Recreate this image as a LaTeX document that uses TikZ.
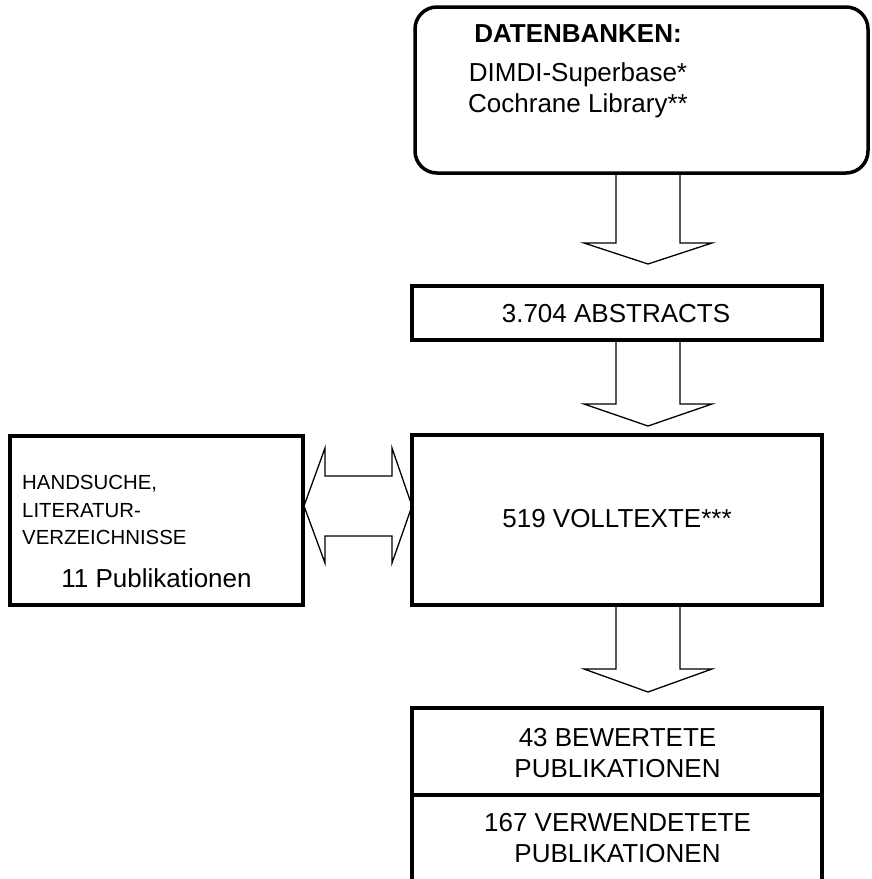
\documentclass[tikz,border=0pt]{standalone}
\usepackage{fontspec}
\setmainfont{Liberation Sans}
\begin{document}
\begin{tikzpicture}[x=1pt,y=-1pt,
  box/.style={draw, line width=4.5pt, inner sep=0pt, rectangle},
  lbl/.style={anchor=base, inner sep=0pt, font=\fontsize{26}{31}\selectfont},
  lblb/.style={anchor=base, inner sep=0pt, font=\fontsize{26}{31}\selectfont\bfseries},
  smalllbl/.style={anchor=base west, inner sep=0pt, font=\fontsize{20.4}{27.5}\selectfont},
  blockarrow/.style={draw, line width=1.3pt, fill=white, line join=miter}
]
\useasboundingbox (0,0) rectangle (871,879);

% block arrows (drawn first, boxes cover their open ends)
\draw[blockarrow] (616,173) -- (616,243) -- (584,243) -- (648,264) -- (712,243) -- (680,243) -- (680,173);
\draw[blockarrow] (616,340) -- (616,404) -- (584,404) -- (648,426) -- (712,404) -- (680,404) -- (680,340);
\draw[blockarrow] (616,605) -- (616,669) -- (584,669) -- (648,692) -- (712,669) -- (680,669) -- (680,605);
\draw[blockarrow] (304,506) -- (325,448) -- (325,476) -- (392,476) -- (392,448) -- (412,506)
   -- (392,563) -- (392,536) -- (325,536) -- (325,563) -- cycle;

% boxes
\node[draw, line width=3.5pt, rounded corners=22pt, inner sep=0pt, minimum width=453pt, minimum height=166pt] (db) at (641.5,90) {};
\node[box, minimum width=410pt, minimum height=54pt] (abs) at (617,313) {};
\node[box, minimum width=410pt, minimum height=170pt] (voll) at (617,520) {};
\node[box, minimum width=293pt, minimum height=169pt] (hand) at (156.5,520.5) {};
\node[box, minimum width=410pt, minimum height=87pt] (bew) at (617,751.5) {};
\node[box, minimum width=410pt, minimum height=110pt] (verw) at (617,850) {};

% texts
\node[lblb] (dbh) at (578,42.3) {DATENBANKEN:};
\node[lbl] (dbl1) at (578,81.3) {DIMDI-Superbase*};
\node[lbl] (dbl2) at (578,112.3) {Cochrane Library**};
\node[lbl] (abst) at (616,322) {3.704 ABSTRACTS};
\node[lbl] (vollt) at (617,527) {519 VOLLTEXTE***};
\node[smalllbl] (h1) at (22,489) {HANDSUCHE,};
\node[smalllbl] (h2) at (22,517) {LITERATUR-};
\node[smalllbl] (h3) at (22,544) {VERZEICHNISSE};
\node[lbl] (h4) at (156.5,587) {11 Publikationen};
\node[lbl] (b1) at (617.5,746) {43 BEWERTETE};
\node[lbl] (b2) at (617.5,777) {PUBLIKATIONEN};
\node[lbl] (v1) at (617.5,831) {167 VERWENDETETE};
\node[lbl] (v2) at (617.5,862) {PUBLIKATIONEN};
\end{tikzpicture}
\end{document}
